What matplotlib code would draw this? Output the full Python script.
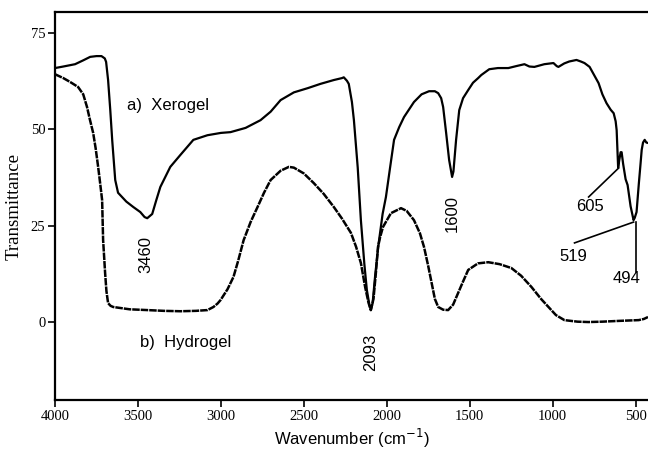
import matplotlib
matplotlib.use("Agg")
import matplotlib.pyplot as plt
import numpy as np

xero_w = [4000, 3950, 3879, 3830, 3788, 3750, 3720, 3700, 3692, 3680, 3667, 3655,
          3637, 3620, 3607, 3570, 3528, 3486, 3460, 3444, 3414, 3390, 3365, 3305,
          3244, 3166, 3081, 3000, 2942, 2851, 2761, 2700, 2640, 2560, 2476, 2400,
          2319, 2270, 2259, 2240, 2229, 2210, 2198, 2175, 2156, 2135, 2120, 2105,
          2096, 2085, 2070, 2050, 2025, 2005, 1980, 1956, 1925, 1896, 1836, 1790,
          1745, 1710, 1690, 1672, 1660, 1642, 1624, 1606, 1598, 1582, 1563, 1540,
          1509, 1480, 1449, 1430, 1382, 1330, 1267, 1220, 1170, 1140, 1110, 1050,
          995, 975, 965, 930, 900, 856, 830, 808, 777, 750, 723, 700, 675, 650,
          632, 620, 614, 605, 598, 590, 584, 575, 560, 548, 530, 512, 505, 494,
          480, 470, 463, 455, 445, 435, 425]
xero_t = [65.8, 66.2, 66.8, 67.8, 68.7, 68.9, 68.9, 68.3, 67.4, 62.7, 55, 47,
          36.8, 33.5, 32.9, 31.2, 29.8, 28.5, 27.2, 26.9, 28, 31.5, 35, 40.2,
          43.3, 47.2, 48.4, 49, 49.2, 50.3, 52.3, 54.5, 57.5, 59.5, 60.6, 61.7,
          62.7, 63.2, 63.4, 62.5, 61.7, 57, 52.3, 40, 26.4, 15, 8.3, 4.5,
          3.1, 5, 12, 20, 28, 32.4, 40, 47.2, 50.5, 53.1, 57, 59,
          59.8, 59.8, 59.3, 58, 55.7, 49, 42, 37.6, 39, 47.2, 54.9, 58,
          60.1, 62, 63.2, 64, 65.5, 65.8, 65.8, 66.3, 66.8, 66.2, 66.1, 66.8,
          67.1, 66.3, 66.1, 67, 67.5, 67.9, 67.5, 67.1, 66.1, 64, 61.9, 59, 56.7, 55,
          54.1, 52, 49.7, 40, 42, 44, 44, 41, 37, 35.5, 30, 26.4, 27, 28.5,
          36, 41, 44.6, 46.5, 47.2, 46.5, 46.4]

hydro_w = [4000, 3950, 3909, 3861, 3830, 3807, 3790, 3770, 3755, 3740, 3728, 3716,
           3710, 3704, 3698, 3690, 3680, 3665, 3649, 3550, 3444, 3344, 3244, 3150,
           3081, 3045, 3020, 3002, 2960, 2924, 2895, 2863, 2820, 2779, 2740, 2700,
           2640, 2590, 2560, 2500, 2440, 2380, 2319, 2270, 2216, 2185, 2156, 2130,
           2110, 2096, 2080, 2065, 2053, 2040, 2023, 1975, 1914, 1880, 1836, 1800,
           1775, 1750, 1733, 1710, 1690, 1660, 1630, 1600, 1570, 1540, 1509, 1450,
           1388, 1320, 1249, 1190, 1128, 1070, 1025, 980, 929, 850, 784, 700,
           600, 481, 450, 425]
hydro_t = [64.2, 63.2, 62.2, 60.9, 59, 55.7, 52.5, 49, 45, 40.2, 36, 31.6,
           21.2, 17, 12.7, 8, 4.9, 4.2, 3.9, 3.3, 3.1, 2.9, 2.8, 2.9,
           3.1, 3.9, 4.8, 5.7, 8.5, 11.7, 16, 21.2, 26, 29.8, 33.5, 36.8,
           39.2, 40.2, 40, 38.5, 36, 33.2, 29.8, 26.8, 23.1, 19.5, 15.3, 9,
           5, 3.1, 6, 13, 19.4, 22, 24.6, 28.2, 29.5, 28.8, 26.4, 23,
           19.4, 14.5, 10.9, 6, 3.9, 3.2, 3.1, 4.5, 7.5, 10.5, 13.5, 15.2,
           15.5, 15, 14, 12, 9.1, 6, 3.9, 1.8, 0.5, 0.1, 0, 0.1,
           0.3, 0.5, 0.8, 1.3]

xticks = [4000, 3500, 3000, 2500, 2000, 1500, 1000, 500]
yticks = [75, 50, 25, 0]

peak_labels = ["3460", "2093", "1600"]
peak_pos = [(3450, 17.4), (2096, -7.8), (1606, 28)]

serif = "Liberation Serif"
sans = "Liberation Sans"

fig = plt.figure(figsize=(6.48, 4.58), dpi=100)
ax = fig.add_axes([0.0849, 0.1266, 0.9151, 0.847])

ax.plot(xero_w, xero_t, color="black", lw=1.6)
ax.plot(hydro_w, hydro_t, color="black", lw=1.8, linestyle=(0, (3, 0.4)))

ax.set_xlim(4000, 425)
ax.set_ylim(-20.2, 80.3)
ax.set_xticks(xticks)
ax.set_yticks(yticks)
ax.tick_params(direction="out", length=5, width=1.2, labelsize=10.5, pad=2)
for lab in ax.get_xticklabels() + ax.get_yticklabels():
    lab.set_family(serif)
ax.spines["right"].set_visible(False)
for s in ["left", "bottom", "top"]:
    ax.spines[s].set_linewidth(1.6)

ax.set_ylabel("Transmittance", family=serif, fontsize=13.5, labelpad=6)
ax.set_xlabel("Wavenumber (cm$^{-1}$)", family=sans, fontsize=12, labelpad=3)

ax.text(3317, 56.2, "a)  Xerogel", family=sans, fontsize=12, ha="center", va="center")
ax.text(3214, -5.2, "b)  Hydrogel", family=sans, fontsize=12, ha="center", va="center")
for lab, (w, t) in zip(peak_labels, peak_pos):
    ax.text(w, t, lab, family=sans, fontsize=12, rotation=90, ha="center", va="center")

# small peak labels with leader lines
ax.text(777, 30, "605", family=sans, fontsize=12, ha="center", va="center")
ax.plot([783, 602], [32.4, 39.9], color="black", lw=1.2)
ax.text(874, 17.1, "519", family=sans, fontsize=12, ha="center", va="center")
ax.plot([868, 512], [20.5, 25.9], color="black", lw=1.2)
ax.text(554, 11.4, "494", family=sans, fontsize=12, ha="center", va="center")
ax.plot([499, 499], [25.9, 13], color="black", lw=1.2)

plt.savefig("out.png", dpi=100)
